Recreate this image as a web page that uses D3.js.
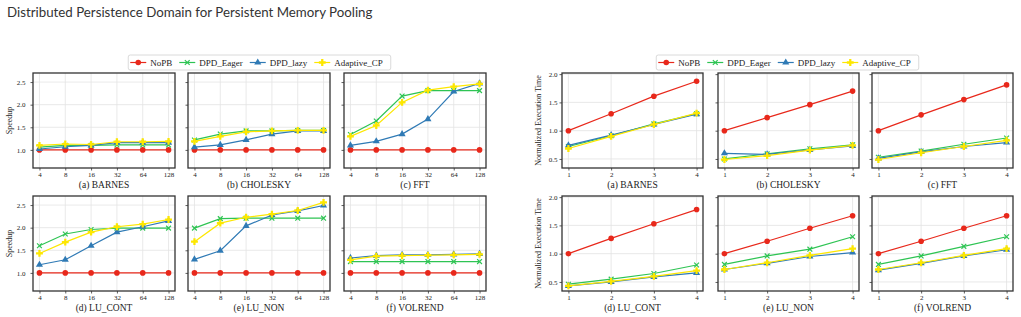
<!DOCTYPE html>
<html lang="en">
<head>
  <meta charset="UTF-8" />
  <title>Distributed Persistence Domain for Persistent Memory Pooling</title>
  <script src="https://d3js.org/d3.v7.min.js"></script>
  <style>
    body { margin: 0; background: #fff; }
    svg { display: block; }
    .chart text { font-family: "Liberation Serif", "DejaVu Serif", serif; fill: #222; }
    .chart text.title { font-family: Lato, "Open Sans", sans-serif; font-size: 13.3px; fill: #333; }
    .tick-label { font-size: 7px; }
    .caption { font-size: 9.5px; }
    .ylabel { font-size: 8px; }
    .legend-text { font-size: 9px; }
    .grid line { stroke: #e3e3e3; stroke-width: 0.8; }
    .frame { fill: none; stroke: #333; stroke-width: 1.3; }
  </style>
</head>
<body>
<script>
  // benchmarks, shared by both figures
  var benchmarks = ["BARNES", "CHOLESKY", "FFT", "LU_CONT", "LU_NON", "VOLREND"];
  var letters = ["a", "b", "c", "d", "e", "f"];
  var seriesNames = ["NoPB", "DPD_Eager", "DPD_lazy", "Adaptive_CP"];

  // left figure: speedup vs thread count
  var threads = ["4", "8", "16", "32", "64", "128"];
  var speedupNoPB = [
    [1, 1, 1, 1, 1, 1], [1, 1, 1, 1, 1, 1], [1, 1, 1, 1, 1, 1],
    [1, 1, 1, 1, 1, 1], [1, 1, 1, 1, 1, 1], [1, 1, 1, 1, 1, 1]
  ];
  var speedupEager = [
    [1.06, 1.10, 1.10, 1.11, 1.11, 1.11],
    [1.22, 1.35, 1.42, 1.42, 1.43, 1.43],
    [1.34, 1.64, 2.19, 2.31, 2.31, 2.31],
    [1.60, 1.86, 1.96, 1.99, 1.99, 1.99],
    [1.99, 2.20, 2.21, 2.21, 2.21, 2.21],
    [1.25, 1.25, 1.25, 1.25, 1.25, 1.25]
  ];
  var speedupLazy = [
    [1.02, 1.07, 1.10, 1.16, 1.16, 1.16],
    [1.06, 1.11, 1.22, 1.35, 1.42, 1.42],
    [1.10, 1.19, 1.35, 1.68, 2.29, 2.47],
    [1.18, 1.29, 1.60, 1.90, 2.02, 2.15],
    [1.30, 1.49, 2.04, 2.28, 2.37, 2.49],
    [1.33, 1.38, 1.40, 1.40, 1.41, 1.42]
  ];
  var speedupAdaptive = [
    [1.10, 1.13, 1.12, 1.18, 1.18, 1.19],
    [1.19, 1.30, 1.40, 1.42, 1.43, 1.43],
    [1.30, 1.54, 2.05, 2.32, 2.40, 2.46],
    [1.43, 1.68, 1.90, 2.02, 2.08, 2.18],
    [1.69, 2.10, 2.23, 2.30, 2.38, 2.56],
    [1.29, 1.37, 1.38, 1.39, 1.40, 1.41]
  ];
  var speedupTicks = [1.0, 1.5, 2.0, 2.5];

  // right figure: normalized execution time
  var steps = [1, 2, 3, 4];
  var timeNoPB = [
    [1.00, 1.30, 1.61, 1.875],
    [1.00, 1.23, 1.46, 1.70],
    [1.00, 1.28, 1.55, 1.81],
    [1.00, 1.27, 1.53, 1.78],
    [1.00, 1.22, 1.45, 1.67],
    [1.00, 1.22, 1.45, 1.67]
  ];
  var timeEager = [
    [0.72, 0.91, 1.12, 1.30],
    [0.50, 0.59, 0.68, 0.75],
    [0.53, 0.64, 0.76, 0.87],
    [0.46, 0.55, 0.65, 0.80],
    [0.81, 0.96, 1.08, 1.30],
    [0.81, 0.96, 1.13, 1.30]
  ];
  var timeLazy = [
    [0.74, 0.92, 1.11, 1.29],
    [0.60, 0.58, 0.66, 0.73],
    [0.51, 0.625, 0.72, 0.79],
    [0.43, 0.50, 0.59, 0.66],
    [0.72, 0.83, 0.95, 1.02],
    [0.71, 0.83, 0.96, 1.07]
  ];
  var timeAdaptive = [
    [0.685, 0.90, 1.11, 1.31],
    [0.49, 0.56, 0.655, 0.74],
    [0.49, 0.61, 0.72, 0.83],
    [0.43, 0.51, 0.60, 0.70],
    [0.72, 0.84, 0.97, 1.09],
    [0.72, 0.84, 0.97, 1.09]
  ];
  var timeTicks = [0.5, 1.0, 1.5, 2.0];

  var colors = ["#e8281b", "#2ec453", "#2f7ab5", "#fde700"];
  var symbols = ["circle", "x", "triangle", "plus"];

  var svg = d3.select("body").append("svg")
    .attr("width", 1021).attr("height", 317)
    .attr("class", "chart");

  svg.append("text").attr("class", "title")
    .attr("x", 7).attr("y", 17)
    .text("Distributed Persistence Domain for Persistent Memory Pooling");

  function drawMarker(g, kind, color, cx, cy) {
    if (kind === "circle") {
      g.append("circle").attr("cx", cx).attr("cy", cy).attr("r", 2.8).attr("fill", color);
    } else if (kind === "x") {
      var s = 2.4;
      g.append("path")
        .attr("d", "M" + (cx - s) + "," + (cy - s) + "L" + (cx + s) + "," + (cy + s) +
          "M" + (cx - s) + "," + (cy + s) + "L" + (cx + s) + "," + (cy - s))
        .attr("stroke", color).attr("stroke-width", 1.2).attr("fill", "none");
    } else if (kind === "triangle") {
      g.append("path").attr("transform", "translate(" + cx + "," + cy + ")")
        .attr("d", d3.symbol(d3.symbolTriangle, 22)()).attr("fill", color);
    } else {
      g.append("path").attr("transform", "translate(" + cx + "," + cy + ")")
        .attr("d", d3.symbol(d3.symbolCross, 26)()).attr("fill", color);
    }
  }

  function drawFigure(opt) {
    var w = opt.width, h = 95;
    var rowY = [73, 196];
    benchmarks.forEach(function (name, i) {
      var col = i % 3, row = Math.floor(i / 3);
      var g = svg.append("g")
        .attr("transform", "translate(" + opt.panelX[col] + "," + rowY[row] + ")");

      var x = opt.makeX(w);
      var y = d3.scaleLinear().domain(opt.yDomain).range([h, 0]);

      // grid
      var grid = g.append("g").attr("class", "grid");
      grid.selectAll(".gx").data(opt.xValues).enter().append("line")
        .attr("x1", function (d) { return x(d); }).attr("x2", function (d) { return x(d); })
        .attr("y1", 0).attr("y2", h);
      grid.selectAll(".gy").data(opt.yTicks).enter().append("line")
        .attr("x1", 0).attr("x2", w)
        .attr("y1", function (d) { return y(d); }).attr("y2", function (d) { return y(d); });

      // axes
      var xAxis = g.append("g").attr("transform", "translate(0," + h + ")")
        .call(d3.axisBottom(x).tickValues(opt.xValues).tickSize(2.5).tickPadding(2)
          .tickFormat(function (d) { return d; }));
      var yAxis = g.append("g")
        .call(d3.axisLeft(y).tickValues(opt.yTicks).tickSize(2.5).tickPadding(opt.yPad)
          .tickFormat(col === 0 ? d3.format(".1f") : ""));
      [xAxis, yAxis].forEach(function (a) {
        a.select(".domain").remove();
        a.selectAll(".tick line").attr("stroke", "#333").attr("stroke-width", 0.8);
        a.selectAll(".tick text").attr("class", "tick-label").attr("font-size", null)
          .attr("font-family", null);
      });

      // series
      opt.series.forEach(function (data, s) {
        var vals = data[i];
        var line = d3.line()
          .x(function (d, k) { return x(opt.xValues[k]); })
          .y(function (d) { return y(d); });
        g.append("path").datum(vals)
          .attr("d", line).attr("fill", "none")
          .attr("stroke", colors[s]).attr("stroke-width", 1.2);
        var mg = g.append("g");
        vals.forEach(function (v, k) {
          drawMarker(mg, symbols[s], colors[s], x(opt.xValues[k]), y(v));
        });
      });

      g.append("rect").attr("class", "frame").attr("width", w).attr("height", h);

      g.append("text").attr("class", "caption")
        .attr("x", w / 2).attr("y", h + 20).attr("text-anchor", "middle")
        .text("(" + letters[i] + ") " + name);

      if (col === 0) {
        g.append("text").attr("class", "ylabel")
          .attr("transform", "translate(" + opt.ylabelX + "," + (h / 2) + ") rotate(-90)")
          .attr("text-anchor", "middle")
          .text(opt.ylabel);
      }
    });

    // legend
    var lg = svg.append("g");
    var box = lg.append("rect").attr("fill", "#fff").attr("stroke", "#d0d0d0")
      .attr("stroke-width", 0.8).attr("rx", 2).attr("y", 55).attr("height", 15);
    var cursor = 2;
    var items = lg.append("g");
    seriesNames.forEach(function (n, s) {
      var it = items.append("g");
      it.append("line").attr("x1", cursor).attr("x2", cursor + 16)
        .attr("y1", 62.5).attr("y2", 62.5)
        .attr("stroke", colors[s]).attr("stroke-width", 1.2);
      drawMarker(it, symbols[s], colors[s], cursor + 8, 62.5);
      var t = it.append("text").attr("class", "legend-text")
        .attr("x", cursor + 20).attr("y", 65.8).text(n);
      cursor += 20 + t.node().getComputedTextLength() + 7;
    });
    var boxW = cursor + 1;
    var center = (opt.panelX[0] + opt.panelX[2] + w) / 2;
    var left = center - boxW / 2;
    box.attr("x", left).attr("width", boxW);
    items.attr("transform", "translate(" + left + ",0)");
  }

  drawFigure({
    panelX: [33, 188, 344],
    width: 142,
    xValues: threads,
    makeX: function (w) { return d3.scalePoint().domain(threads).range([0, w]).padding(0.25); },
    yDomain: [0.6, 2.7],
    yTicks: speedupTicks,
    yPad: 5,
    series: [speedupNoPB, speedupEager, speedupLazy, speedupAdaptive],
    ylabel: "Speedup",
    ylabelX: -21
  });

  drawFigure({
    panelX: [562, 718, 872],
    width: 141,
    xValues: steps,
    makeX: function (w) { return d3.scaleLinear().domain([0.85, 4.15]).range([0, w]); },
    yDomain: [0.34, 2.02],
    yTicks: timeTicks,
    yPad: 2,
    series: [timeNoPB, timeEager, timeLazy, timeAdaptive],
    ylabel: "Normalized Execution Time",
    ylabelX: -21
  });
</script>
</body>
</html>
